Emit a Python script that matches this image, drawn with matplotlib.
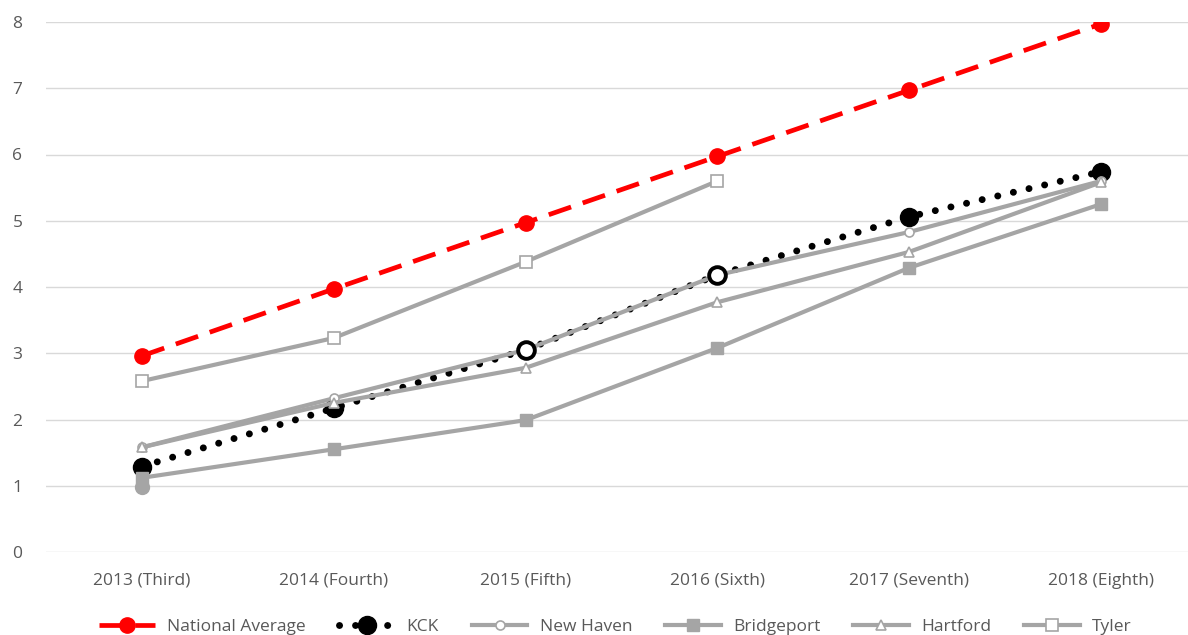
import matplotlib
matplotlib.use("Agg")
import matplotlib.pyplot as plt

years = ["2013 (Third)", "2014 (Fourth)", "2015 (Fifth)", "2016 (Sixth)",
         "2017 (Seventh)", "2018 (Eighth)"]
national_avg = [2.96, 3.97, 4.97, 5.97, 6.97, 7.97]
kck = [1.29, 2.17, 3.05, 4.18, 5.06, 5.74]
new_haven = [1.58, 2.32, 3.05, 4.18, 4.83, 5.60]
bridgeport = [1.12, 1.55, 1.99, 3.08, 4.29, 5.25]
hartford = [1.58, 2.25, 2.78, 3.77, 4.53, 5.58]
tyler = [2.58, 3.23, 4.38, 5.60]
stray_2013 = [0.98]

GRAY = "#A5A5A5"
TEXT = "#595959"
FS = 12.5
plt.rcParams["font.family"] = ["Open Sans", "DejaVu Sans"]

fig = plt.figure(figsize=(11.88, 6.35), dpi=100)
ax = fig.add_axes([46 / 1188, 1 - 552 / 635, 1 - 46 / 1188, (552 - 22) / 635])
x = list(range(len(years)))

for v in range(0, 9):
    ax.axhline(v, color="#D9D9D9", linewidth=1.0, zorder=0)

ax.plot([0], stray_2013, "o", color=GRAY, markersize=10, zorder=1)

ax.plot(x, kck, color="black", linewidth=5, linestyle=(0, (0.01, 2.3)),
        dash_capstyle="round", marker="o", markersize=13,
        markerfacecolor="black", markeredgecolor="black", markevery=[0, 1, 4, 5],
        zorder=2, label="KCK")

lw = 3.0
ax.plot(x, new_haven, color=GRAY, linewidth=lw, marker="o", markersize=6.5,
        markerfacecolor="white", markeredgecolor=GRAY, markeredgewidth=1.2,
        zorder=3, label="New Haven")
ax.plot(x, bridgeport, color=GRAY, linewidth=lw, marker="s", markersize=8,
        markerfacecolor=GRAY, markeredgecolor=GRAY, zorder=3, label="Bridgeport")
ax.plot(x, hartford, color=GRAY, linewidth=lw, marker="^", markersize=7.5,
        markerfacecolor="white", markeredgecolor=GRAY, markeredgewidth=1.2,
        zorder=3, label="Hartford")
ax.plot(x[:len(tyler)], tyler, color=GRAY, linewidth=lw, marker="s", markersize=8,
        markerfacecolor="white", markeredgecolor=GRAY, markeredgewidth=1.2,
        zorder=3, label="Tyler")

# open rings where KCK sits on top of New Haven
ax.plot([x[2], x[3]], [kck[2], kck[3]], "o", markersize=12,
        markerfacecolor="white", markeredgecolor="black", markeredgewidth=2.8,
        zorder=4)

ax.plot(x, national_avg, color="#FF0000", linewidth=3.4, linestyle=(0, (5, 2.6)),
        marker="o", markersize=11, markerfacecolor="#FF0000",
        markeredgecolor="#FF0000", zorder=5, label="National Average")

ax.set_xlim(-0.5, 5.454)
ax.set_ylim(0, 8)
ax.set_xticks(x)
ax.set_xticklabels(years)
ax.set_yticks(range(0, 9))
ax.tick_params(axis="both", length=0, labelsize=FS, labelcolor=TEXT)
ax.tick_params(axis="x", pad=15)
ax.tick_params(axis="y", pad=17)
for s in ax.spines.values():
    s.set_visible(False)

handles, labels = ax.get_legend_handles_labels()
order = ["National Average", "KCK", "New Haven", "Bridgeport", "Hartford", "Tyler"]
hmap = dict(zip(labels, handles))
leg = fig.legend([hmap[k] for k in order], order, loc="lower center",
                 bbox_to_anchor=(0.518, -0.024), ncol=6, frameon=False,
                 fontsize=FS, handlelength=3.2, handletextpad=0.7,
                 columnspacing=1.9)
for t in leg.get_texts():
    t.set_color(TEXT)

fig.savefig("out.png", dpi=100)
